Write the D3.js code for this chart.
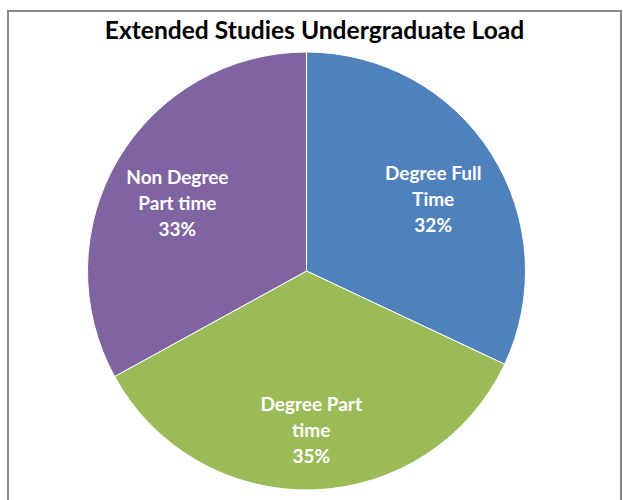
<!DOCTYPE html>
<html>
<head>
<meta charset="utf-8">
<script src="https://cdn.jsdelivr.net/npm/d3@7"></script>
<style>
  html, body { margin: 0; padding: 0; background: #fff; }
  svg { display: block; }
</style>
</head>
<body>
<script>
// Undergraduate load shares for Extended Studies
const categories = ["Degree Full Time", "Degree Part time", "Non Degree Part time"];
const labelLines = [["Degree Full", "Time"], ["Degree Part", "time"], ["Non Degree", "Part time"]];
const shares = [32, 35, 33];
const colors = ["#4F81BD", "#9BBB59", "#8064A2"];
const title = "Extended Studies Undergraduate Load";

const width = 623, height = 500;
const svg = d3.select("body").append("svg")
  .attr("width", width).attr("height", height);

// chart frame
svg.append("rect")
  .attr("x", 8).attr("y", 11)
  .attr("width", 613).attr("height", 500)
  .attr("fill", "#fff")
  .attr("stroke", "#878787").attr("stroke-width", 2);

svg.append("text")
  .attr("x", 314.5).attr("y", 39)
  .attr("text-anchor", "middle")
  .attr("font-family", "Lato, 'Open Sans', sans-serif")
  .attr("font-weight", "bold")
  .attr("font-size", 24.6)
  .attr("fill", "#000")
  .text(title);

const cx = 306.5, cy = 271, r = 219;
const data = categories.map((c, i) => ({ name: c, value: shares[i], color: colors[i], lines: labelLines[i] }));

const pie = d3.pie().value(d => d.value).sort(null);
const arc = d3.arc().innerRadius(0).outerRadius(r);
const labelR = r * 0.685;
const labelArc = d3.arc().innerRadius(labelR).outerRadius(labelR);
const labelDrop = 9;

const g = svg.append("g").attr("transform", `translate(${cx},${cy})`);
const arcs = pie(data);

g.selectAll("path.slice")
  .data(arcs)
  .join("path")
  .attr("class", "slice")
  .attr("d", arc)
  .attr("fill", d => d.data.color)
  .attr("stroke", "#fff")
  .attr("stroke-width", 1);

const lineH = 26;
const labels = g.selectAll("text.label")
  .data(arcs)
  .join("text")
  .attr("class", "label")
  .attr("text-anchor", "middle")
  .attr("font-family", "Lato, 'Open Sans', sans-serif")
  .attr("font-weight", "bold")
  .attr("font-size", 19)
  .attr("fill", "#fff")
  .attr("transform", d => {
    const [x, y] = labelArc.centroid(d);
    return `translate(${x},${y + labelDrop})`;
  });

labels.each(function(d) {
  const t = d3.select(this);
  const rows = [...d.data.lines, d.data.value + "%"];
  rows.forEach((s, i) => {
    t.append("tspan")
      .attr("x", 0)
      .attr("y", (i - (rows.length - 1) / 2) * lineH)
      .attr("dy", "0.35em")
      .text(s);
  });
});
</script>
</body>
</html>
